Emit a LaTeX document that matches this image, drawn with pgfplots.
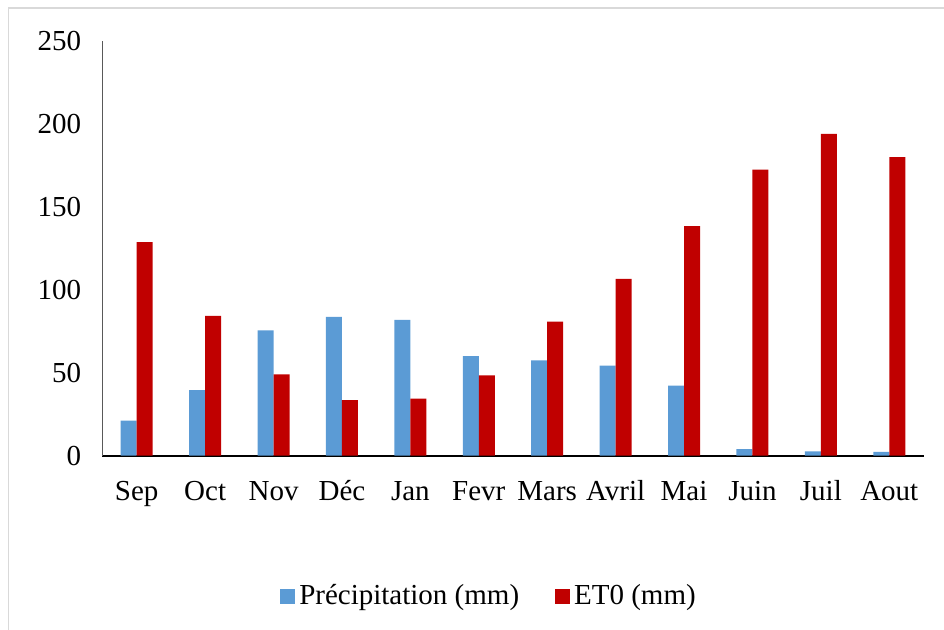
\documentclass[border=0pt]{standalone}
\usepackage{fontspec}
\setmainfont{Liberation Serif}
\usepackage{pgfplots}
\pgfplotsset{compat=1.18}
\definecolor{precip}{HTML}{5B9BD5}
\definecolor{etzero}{HTML}{C00000}
\definecolor{framegray}{HTML}{D9D9D9}
\definecolor{yaxisgray}{HTML}{595959}

\begin{document}
\begin{tikzpicture}[font=\fontsize{14.5}{17.4}\selectfont]
% page size and the light outer frame of the chart area
\useasboundingbox (-51.25pt,-86.75pt) rectangle (420.75pt,227.75pt);
\draw[framegray, line width=0.8pt] (-47pt,-90pt) |- (425pt,223.75pt);
\begin{axis}[
  at={(0,0)}, anchor=south west,
  scale only axis,
  width=410.5pt, height=207.2pt,
  ybar=0pt, bar width=8pt,
  xmin=-0.5, xmax=11.5,
  ymin=0, ymax=250,
  xtick={0,...,11},
  xticklabels={Sep,Oct,Nov,Déc,Jan,Fevr,Mars,Avril,Mai,Juin,Juil,Aout},
  ytick={0,50,...,250},
  axis x line*=bottom, axis y line*=left,
  x axis line style={black, line width=1pt},
  y axis line style={yaxisgray, line width=0.7pt},
  major tick length=0pt,
  tick style={draw=none},
  /pgf/number format/assume math mode=true,
  xticklabel style={anchor=base, yshift=-22.6pt},
  yticklabel style={anchor=east, xshift=-7.2pt},
  legend columns=2,
  legend style={draw=none, fill=none, at={(0.472,-0.34)}, anchor=center,
    /tikz/every even column/.append style={column sep=16pt}},
  legend image code/.code={\fill[#1] (0pt,-3.75pt) rectangle (7.5pt,3.75pt);},
]
\addplot[fill=precip, draw=none] coordinates {
  (0,21) (1,39.5) (2,75.5) (3,83.6) (4,81.8) (5,60) (6,57.4)
  (7,54.2) (8,42.2) (9,3.8) (10,2.5) (11,2.2)};
\addlegendentry{Précipitation (mm)}
\addplot[fill=etzero, draw=none] coordinates {
  (0,128.8) (1,84.2) (2,49) (3,33.4) (4,34.3) (5,48.3) (6,80.7)
  (7,106.5) (8,138.4) (9,172.5) (10,194) (11,180)};
\addlegendentry{ET0 (mm)}
\end{axis}
\end{tikzpicture}
\end{document}
